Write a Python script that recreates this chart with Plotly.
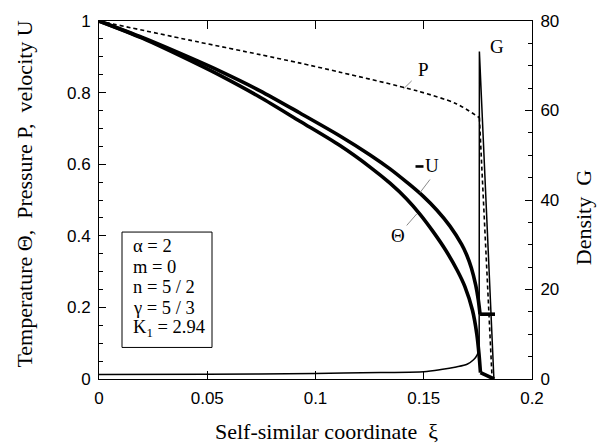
import plotly.graph_objects as go

# ---------------- data ----------------
xi_P = [0, 0.0462, 0.0744, 0.0924, 0.1113, 0.1468, 0.165, 0.1757, 0.1815]
P = [1.0, 0.941, 0.906, 0.883, 0.857, 0.805, 0.769, 0.730, 0.01]

xi_U = [0, 0.02, 0.046, 0.0559, 0.0744, 0.0928, 0.1113, 0.1252, 0.1344, 0.1437, 0.1498,
        0.156, 0.1621, 0.1675, 0.1698, 0.172, 0.174, 0.1752, 0.176, 0.1829]
negU = [1.0, 0.954, 0.887, 0.860, 0.805, 0.743, 0.679, 0.626, 0.587, 0.542, 0.510,
        0.472, 0.427, 0.376, 0.347, 0.310, 0.262, 0.221, 0.181, 0.181]

xi_T = [0, 0.02, 0.046, 0.0559, 0.0744, 0.0928, 0.1113, 0.1252, 0.1344, 0.1421, 0.1483,
        0.1544, 0.160, 0.1655, 0.169, 0.1725, 0.1745, 0.1755, 0.1762, 0.1825]
Theta = [1.0, 0.952, 0.878, 0.848, 0.787, 0.720, 0.652, 0.592, 0.547, 0.503, 0.460,
         0.411, 0.361, 0.303, 0.258, 0.192, 0.126, 0.071, 0.018, 0.0]

xi_G = [0, 0.05, 0.1, 0.13, 0.15, 0.158, 0.165, 0.17, 0.173, 0.1748, 0.1756, 0.1757, 0.1824]
G = [1.0, 1.05, 1.25, 1.45, 1.6, 2.1, 2.7, 3.3, 4.3, 5.5, 7.5, 73.2, 0.0]

x_tickvals = [0, 0.05, 0.1, 0.15, 0.2]
x_ticktext = ["0", "0.05", "0.1", "0.15", "0.2"]
y_tickvals = [0, 0.2, 0.4, 0.6, 0.8, 1]
y_ticktext = ["0", "0.2", "0.4", "0.6", "0.8", "1"]
y2_tickvals = [0, 20, 40, 60, 80]
y2_ticktext = ["0", "20", "40", "60", "80"]

params = ["α = 2", "m = 0", "n = 5 / 2", "γ = 5 / 3", "K<sub>1</sub> = 2.94"]

x_title = "Self-similar coordinate  ξ"
y_title = "Temperature Θ,  Pressure P,  velocity U"
y2_title = "Density  G"

# ---------------- layout helpers ----------------
W, H = 598, 445
ML, MR, MT, MB = 99, 66, 16, 66
PW, PH = W - ML - MR, H - MT - MB


def fx(p):
    return (p - ML) / PW


def fy(p):
    return (H - MB - p) / PH


SERIF = "Liberation Serif, Times New Roman, serif"
SANS = "Liberation Sans, Arial, sans-serif"

fig = go.Figure()


def add_curve(xs, ys, k, width, dash=None, yaxis="y"):
    """smooth part up to index k (inclusive), straight segments after it"""
    line_s = dict(color="black", width=width, shape="spline", smoothing=0.8)
    line_l = dict(color="black", width=width)
    if dash:
        line_s["dash"] = dash
        line_l["dash"] = dash
    fig.add_trace(go.Scatter(x=xs[:k + 1], y=ys[:k + 1], mode="lines", yaxis=yaxis,
                             line=line_s, showlegend=False, hoverinfo="skip"))
    fig.add_trace(go.Scatter(x=xs[k:], y=ys[k:], mode="lines", yaxis=yaxis,
                             line=line_l, showlegend=False, hoverinfo="skip"))


add_curve(xi_P, P, len(P) - 2, 1.6, dash="4px,3px")
add_curve(xi_T, Theta, len(Theta) - 2, 3.6)
add_curve(xi_U, negU, len(negU) - 2, 3.6)
add_curve(xi_G, G, G.index(max(G)) - 1, 1.5, yaxis="y2")

shapes = []
# parameter box
shapes.append(dict(type="rect", xref="paper", yref="paper",
                   x0=fx(122), x1=fx(212), y0=fy(347), y1=fy(230),
                   line=dict(color="black", width=1), fillcolor="white", layer="above"))
# leader lines
for (a, b, c, d) in [(411.7, 76.7, 403.3, 85), (430, 176.7, 420, 190), (416.7, 211.7, 406.7, 223.3)]:
    shapes.append(dict(type="line", xref="paper", yref="paper",
                       x0=fx(a), y0=fy(b), x1=fx(c), y1=fy(d),
                       line=dict(color="#8a8a8a", width=1)))
# thick dash of the "-U" label
shapes.append(dict(type="line", xref="paper", yref="paper",
                   x0=fx(415.5), y0=fy(163.5), x1=fx(423.5), y1=fy(163.5),
                   line=dict(color="black", width=2.6)))

ann = []
for txt, (cx, cy) in zip(["P", "U", "Θ", "G"],
                         [(423.5, 65.5), (432, 163), (397.5, 234), (497, 41.5)]):
    ann.append(dict(text=txt, xref="paper", yref="paper", x=fx(cx), y=fy(cy),
                    xanchor="center", yanchor="middle", showarrow=False,
                    font=dict(family=SERIF, size=19, color="black")))
for txt, cy in zip(params, [244, 265, 286, 307, 328]):
    ann.append(dict(text=txt, xref="paper", yref="paper", x=fx(131), y=fy(cy),
                    xanchor="left", yanchor="middle", showarrow=False,
                    font=dict(family=SERIF, size=18.5, color="black")))
ann.append(dict(text=x_title, xref="paper", yref="paper", x=fx(326), y=fy(432),
                xanchor="center", yanchor="middle", showarrow=False,
                font=dict(family=SERIF, size=22, color="black")))
ann.append(dict(text=y_title, xref="paper", yref="paper", x=fx(25), y=fy(192),
                xanchor="center", yanchor="middle", showarrow=False, textangle=-90,
                font=dict(family=SERIF, size=22, color="black")))
ann.append(dict(text=y2_title, xref="paper", yref="paper", x=fx(583), y=fy(216),
                xanchor="center", yanchor="middle", showarrow=False, textangle=-90,
                font=dict(family=SERIF, size=22, color="black")))

axis_common = dict(showline=True, linecolor="black", linewidth=1, showgrid=False,
                   zeroline=False, ticks="inside", tickcolor="black", tickwidth=1,
                   tickfont=dict(family=SANS, size=17, color="black"))

fig.update_layout(
    width=W, height=H, margin=dict(l=ML, r=MR, t=MT, b=MB, pad=0),
    paper_bgcolor="white", plot_bgcolor="white",
    xaxis=dict(range=[0, 0.2], tickvals=x_tickvals, ticktext=x_ticktext, ticklen=8,
               mirror="ticks", ticklabelstandoff=4, **axis_common),
    yaxis=dict(range=[0, 1], tickvals=y_tickvals, ticktext=y_ticktext, ticklen=7,
               ticklabelstandoff=4,
               minor=dict(dtick=0.05, ticklen=4, ticks="inside", tickcolor="black", showgrid=False),
               **axis_common),
    yaxis2=dict(range=[0, 80], tickvals=y2_tickvals, ticktext=y2_ticktext, ticklen=7,
                overlaying="y", side="right", ticklabelstandoff=4,
                minor=dict(dtick=5, ticklen=4, ticks="inside", tickcolor="black", showgrid=False),
                **axis_common),
    shapes=shapes, annotations=ann, showlegend=False,
)

fig.write_html("out.html")
